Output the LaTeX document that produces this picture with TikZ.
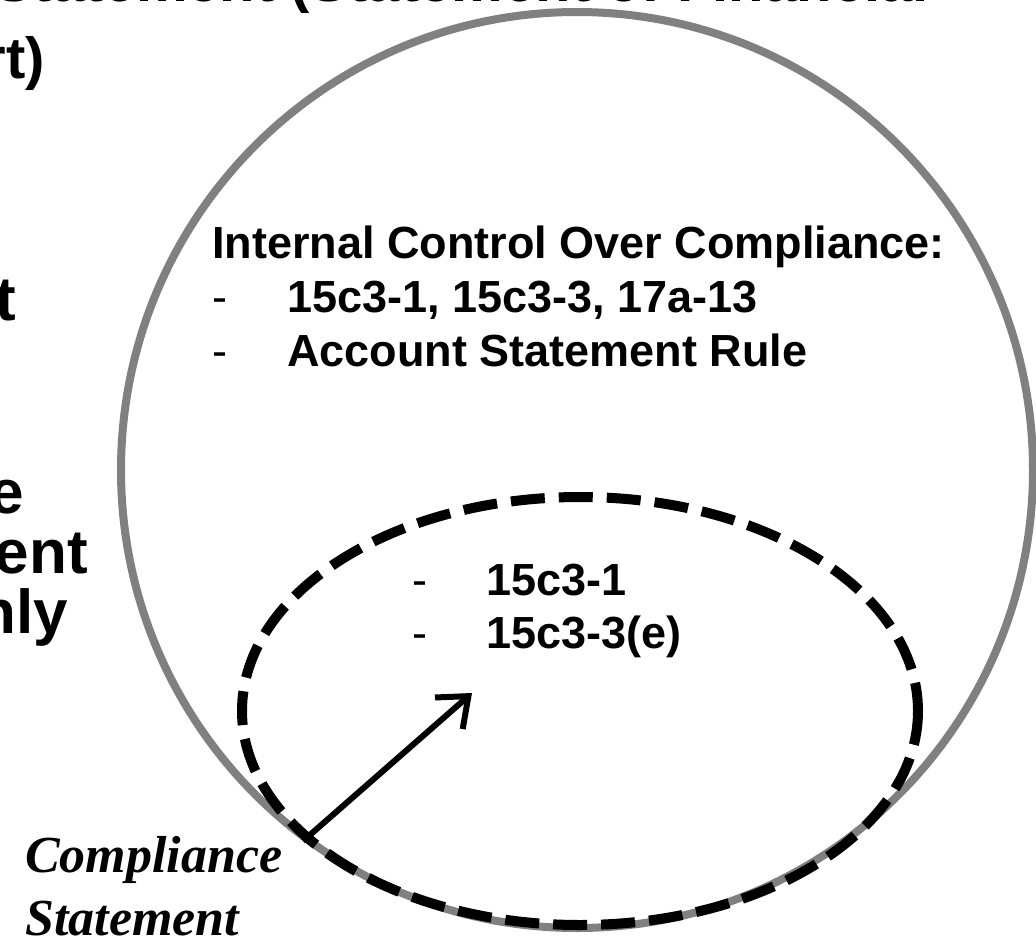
\documentclass[tikz,border=0pt]{standalone}
\usepackage{fontspec}
\setmainfont{Liberation Sans}
\newfontfamily\serifbi{Liberation Serif}
\usetikzlibrary{arrows.meta}
\begin{document}
\begin{tikzpicture}[x=1pt,y=-1pt,
  rtxt/.style={font=\fontsize{45}{53}\selectfont\bfseries, inner sep=0pt, anchor=base west},
  rdash/.style={font=\fontsize{45}{53}\selectfont, inner sep=0pt, anchor=base west},
  ttxt/.style={font=\fontsize{58}{60}\selectfont\bfseries, inner sep=0pt},
  ltxt/.style={font=\fontsize{62}{60}\selectfont\bfseries, inner sep=0pt, anchor=base east},
  ctxt/.style={font=\fontsize{52}{52}\selectfont\serifbi\bfseries\itshape, inner sep=0pt, anchor=base west}]
\useasboundingbox (0,0) rectangle (1036,942);
\fill[white] (0,0) rectangle (1036,942);
\clip (0,0) rectangle (1036,942);
% left partial column
\node[ttxt, anchor=base west] (l1) at (-6,2) {Statement (Statement of Financial};
\node[ttxt, anchor=base east] (l2) at (45,78) {rt)};
\node[ltxt] (l3) at (16,320) {t};
\node[ltxt] (l4) at (24,513) {e};
\node[ltxt] (l5) at (88,573) {ent};
\node[ltxt] (l6) at (68,633) {nly};
% circles
\draw[gray, line width=8pt] (577,470) ellipse [x radius=456, y radius=458];
\draw[black, line width=10pt, dash pattern=on 34pt off 14pt] (580,711) ellipse [x radius=338, y radius=214];
% outer list
\node[rtxt] (icc) at (212,258) {Internal Control Over Compliance:};
\node[rdash] (d1) at (212,312) {-};
\node[rtxt] (o1) at (287,312) {15c3-1, 15c3-3, 17a-13};
\node[rdash] (d2) at (212,366) {-};
\node[rtxt] (o2) at (287,366) {Account Statement Rule};
% inner list
\node[rdash] (d3) at (412,595) {-};
\node[rtxt] (i1) at (486,595) {15c3-1};
\node[rdash] (d4) at (412,648) {-};
\node[rtxt] (i2) at (486,648) {15c3-3(e)};
% compliance statement
\node[ctxt] (cs1) at (25,872) {Compliance};
\node[ctxt] (cs2) at (25,935) {Statement};
\coordinate (as) at (303,841);
\coordinate (ae) at (472,693);
\draw[line width=6pt, -{Straight Barb[length=26pt,width=42pt,line width=6pt]}] (as) -- (ae);
\end{tikzpicture}
\end{document}
